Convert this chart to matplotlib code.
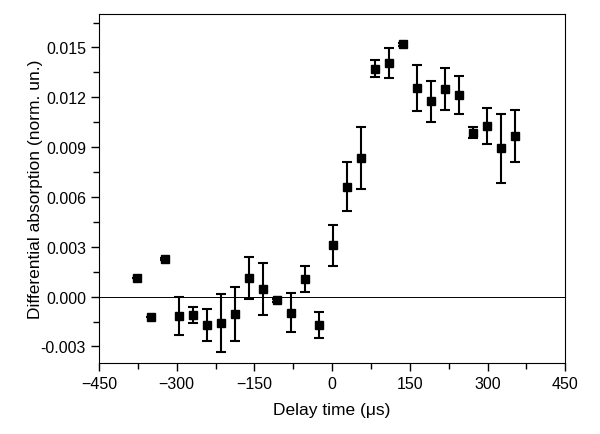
import numpy as np
import matplotlib
matplotlib.use("Agg")
import matplotlib.pyplot as plt
from matplotlib.ticker import MultipleLocator, FormatStrFormatter

plt.rcParams['font.family'] = ['Liberation Sans', 'DejaVu Sans']

# delay time (us), signal and error
delay = [-376, -349, -322, -295, -268, -241, -214, -187, -160, -133, -106,
         -79, -52, -25, 2, 29, 56, 83, 110, 137, 164, 191, 218, 245, 272,
         299, 326, 353]
signal = [0.00112, -0.00124, 0.00227, -0.00116, -0.00110, -0.00170, -0.00158,
          -0.00104, 0.00111, 0.00048, -0.00022, -0.00096, 0.00106, -0.00170,
          0.00309, 0.00661, 0.00834, 0.01373, 0.01405, 0.01518, 0.01255,
          0.01175, 0.01251, 0.01215, 0.00988, 0.01026, 0.00892, 0.00968]
error = [0.0, 0.0, 0.00008, 0.00112, 0.00048, 0.00097, 0.00174, 0.00162,
         0.00128, 0.00157, 0.0001, 0.00115, 0.00077, 0.0008, 0.00122,
         0.00148, 0.00188, 0.00052, 0.00089, 0.00008, 0.0014, 0.00122,
         0.00126, 0.00114, 0.00033, 0.0011, 0.00205, 0.00155]

fig = plt.figure(figsize=(6, 4.35), dpi=100)
ax = fig.add_axes([0.165, 0.163, 0.777, 0.802])

ax.axhline(0, color='black', lw=0.7, zorder=1)
ax.errorbar(delay, signal, yerr=error, fmt='s', color='black', ms=6,
            elinewidth=1.5, capsize=3.5, capthick=1.5, zorder=3)

ax.set_xlim(-450, 450)
ax.set_ylim(-0.004, 0.017)
ax.xaxis.set_major_locator(MultipleLocator(150))
ax.xaxis.set_minor_locator(MultipleLocator(75))
ax.yaxis.set_major_locator(MultipleLocator(0.003))
ax.yaxis.set_minor_locator(MultipleLocator(0.0015))
ax.yaxis.set_major_formatter(FormatStrFormatter('%.3f'))

ax.tick_params(which='both', direction='out', top=False, right=False,
               labelsize=11.5, width=1)
ax.tick_params(which='major', length=5.8)
ax.tick_params(which='minor', length=4)

ax.set_xlabel('Delay time (μs)', fontsize=12.5, labelpad=8)
ax.set_ylabel('Differential absorption (norm. un.)', fontsize=12.5)
ax.yaxis.set_label_coords(-0.12, 0.5)

fig.savefig('out.png', dpi=100)
